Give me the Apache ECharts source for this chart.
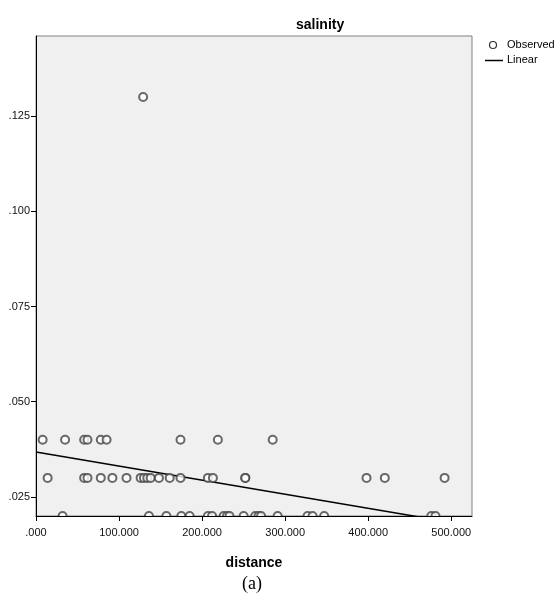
<!DOCTYPE html>
<html>
<head>
<meta charset="utf-8">
<script src="https://cdn.jsdelivr.net/npm/echarts@6/dist/echarts.min.js"></script>
<style>
  html, body { margin: 0; padding: 0; background: #fff; }
  #chart { width: 556px; height: 600px; }
</style>
</head>
<body>
<div id="chart"></div>
<script>
// observed points, grouped by salinity level
const dist040 = [8, 35, 58, 62, 78, 85, 174, 219, 285];
const dist030 = [14, 58, 62, 78, 92, 109, 126, 130, 134, 138, 148, 161, 174, 207, 213, 252, 252, 398, 420, 492];
const dist020 = [32, 136, 157, 175, 185, 207, 212, 226, 230, 233, 250, 264, 268, 271, 291, 327, 333, 347, 476, 481];
const distOutlier = [129];
const salOutlier = [0.13];

// linear fit end points
const fitX = [0, 525];
const fitY = [0.0368, 0.0174];

const yTicks = [0.025, 0.05, 0.075, 0.1, 0.125];
const xTicks = [0, 100, 200, 300, 400, 500];

const observed = []
    .concat(dist040.map(d => [d, 0.04]))
    .concat(dist030.map(d => [d, 0.03]))
    .concat(dist020.map(d => [d, 0.02]))
    .concat(distOutlier.map((d, i) => [d, salOutlier[i]]));

const fmt = v => v.toFixed(3).replace(/^0/, '');

const chart = echarts.init(document.getElementById('chart'));

const option = {
    animation: false,
    title: {
        text: 'salinity',
        left: 291,
        top: 13,
        textStyle: { fontSize: 14, fontWeight: 'bold', color: '#000', fontFamily: 'Liberation Sans' }
    },
    grid: {
        left: 36,
        right: 84,
        top: 36,
        bottom: 84,
        show: true,
        backgroundColor: '#f0f0f0',
        borderColor: '#808080',
        borderWidth: 1
    },
    xAxis: {
        type: 'value',
        min: 0,
        max: 525,
        z: 10,
        name: 'distance',
        nameLocation: 'middle',
        nameGap: 40,
        nameTextStyle: { fontSize: 14, fontWeight: 'bold', color: '#000', fontFamily: 'Liberation Sans' },
        splitLine: { show: false },
        axisLine: { onZero: false, lineStyle: { color: '#000', width: 1 } },
        axisTick: { show: true, length: 5, customValues: xTicks, lineStyle: { color: '#000' } },
        axisLabel: {
            customValues: xTicks,
            formatter: fmt,
            fontSize: 11,
            color: '#111',
            margin: 11,
            fontFamily: 'Liberation Sans'
        }
    },
    yAxis: {
        type: 'value',
        min: 0.02,
        max: 0.146,
        z: 10,
        splitLine: { show: false },
        axisLine: { show: true, onZero: false, lineStyle: { color: '#000', width: 1 } },
        axisTick: { show: true, length: 5, customValues: yTicks, lineStyle: { color: '#000' } },
        axisLabel: {
            customValues: yTicks,
            formatter: fmt,
            fontSize: 11,
            color: '#111',
            margin: 6,
            fontFamily: 'Liberation Sans'
        }
    },
    series: [
        {
            name: 'Observed',
            type: 'scatter',
            symbol: 'emptyCircle',
            symbolSize: 8,
            clip: false,
            itemStyle: { color: '#444', borderColor: '#444', borderWidth: 1 },
            data: observed,
            z: 3
        },
        {
            name: 'Linear',
            type: 'line',
            symbol: 'none',
            clip: true,
            lineStyle: { color: '#000', width: 1.5 },
            data: fitX.map((x, i) => [x, fitY[i]]),
            z: 2
        }
    ],
    graphic: [
        // hide the lower halves of circles that sit on the x axis
        {
            type: 'rect',
            z: 5,
            shape: { x: 30, y: 516.5, width: 450, height: 6 },
            style: { fill: '#fff' }
        },
        // legend
        {
            type: 'circle',
            shape: { cx: 493, cy: 45, r: 3.5 },
            style: { fill: 'none', stroke: '#333', lineWidth: 1.2 }
        },
        {
            type: 'text',
            left: 507,
            top: 39,
            style: { text: 'Observed', fontSize: 11, fill: '#000', fontFamily: 'Liberation Sans' }
        },
        {
            type: 'line',
            shape: { x1: 485, y1: 60.5, x2: 503, y2: 60.5 },
            style: { stroke: '#000', lineWidth: 1.5 }
        },
        {
            type: 'text',
            left: 507,
            top: 54,
            style: { text: 'Linear', fontSize: 11, fill: '#000', fontFamily: 'Liberation Sans' }
        },
        {
            type: 'text',
            left: 242,
            top: 575,
            style: { text: '(a)', fontSize: 18, fill: '#000', fontFamily: 'Liberation Serif' }
        }
    ]
};

chart.setOption(option);
</script>
</body>
</html>
